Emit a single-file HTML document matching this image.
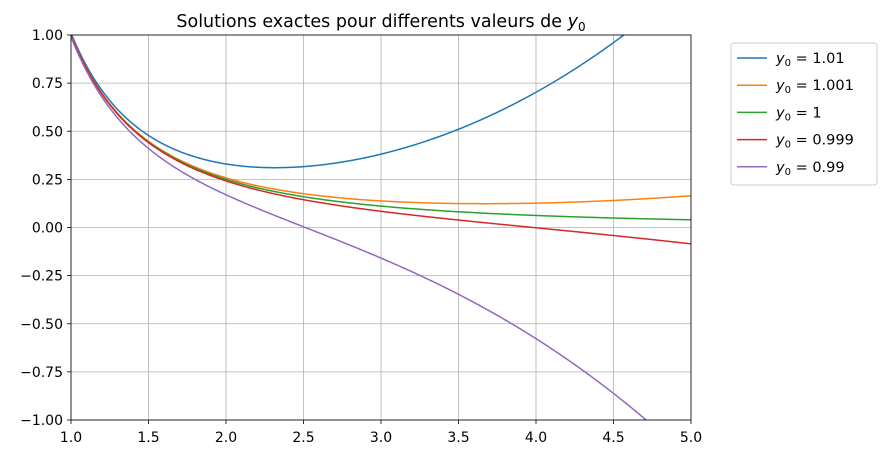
<!DOCTYPE html>
<html><head><meta charset="utf-8"><style>body{margin:0;background:#fff}svg{display:block;font-family:"DejaVu Sans","Liberation Sans",sans-serif}</style></head>
<body>
<svg id="s" width="887" height="455" viewBox="0 0 887 455" xmlns="http://www.w3.org/2000/svg">
<defs><clipPath id="c"><rect x="71" y="35" width="620" height="385"/></clipPath></defs>
<rect width="887" height="455" fill="#fff"/>
<g id="grid" stroke="#b0b0b0" stroke-width="0.8"></g>
<g id="curves" clip-path="url(#c)" fill="none" stroke-width="1.5"></g>
<rect x="71" y="35" width="620" height="385" fill="none" stroke="#000" stroke-width="0.8"/>
<g id="ticks" font-size="14" fill="#000"></g>
<text x="381" y="27" font-size="17.5" text-anchor="middle">Solutions exactes pour differents valeurs de <tspan font-style="italic">y</tspan><tspan font-size="12" dy="4">0</tspan></text>
<rect x="731" y="43" width="146" height="142" rx="3" fill="#fff" stroke="#ccc"/>
<g id="leg" font-size="14.5"></g>
</svg>
<script>
var NS="http://www.w3.org/2000/svg";
function el(p,t,a,txt){var e=document.createElementNS(NS,t);for(var k in a)e.setAttribute(k,a[k]);if(txt!=null)e.textContent=txt;document.getElementById(p).appendChild(e);return e;}
function X(x){return 71+(x-1)*155;}function Y(y){return 227.5-y*192.5;}
for(var i=0;i<=8;i++){var x=1+i*0.5,px=X(x);
 el("grid","line",{x1:px,x2:px,y1:35,y2:420});
 el("ticks","line",{x1:px,x2:px,y1:420,y2:424,stroke:"#000","stroke-width":0.8});
 el("ticks","text",{x:px,y:442,"text-anchor":"middle"},x.toFixed(1));}
for(var i=0;i<=8;i++){var y=-1+i*0.25,py=Y(y);
 el("grid","line",{x1:71,x2:691,y1:py,y2:py});
 el("ticks","line",{x1:67,x2:71,y1:py,y2:py,stroke:"#000","stroke-width":0.8});
 el("ticks","text",{x:63,y:py+5,"text-anchor":"end"},(y<0?"\u2212":"")+Math.abs(y).toFixed(2));}
var S=[[1.01,"#1f77b4","1.01"],[1.001,"#ff7f0e","1.001"],[1,"#2ca02c","1"],[0.999,"#d62728","0.999"],[0.99,"#9467bd","0.99"]];
S.forEach(function(s,j){var d="";for(var k=0;k<=400;k++){var x=1+4*k/400,y=1/(x*x)+(s[0]-1)*x*x*x;d+=(k?"L":"M")+X(x).toFixed(2)+" "+Y(y).toFixed(2);}
 el("curves","path",{d:d,stroke:s[1]});
 var ly=58+j*27.2;
 el("leg","line",{x1:737,x2:767,y1:ly,y2:ly,stroke:s[1],"stroke-width":1.5});
 var t=el("leg","text",{x:776,y:ly+5});
 var a=document.createElementNS(NS,"tspan");a.setAttribute("font-style","italic");a.textContent="y";t.appendChild(a);
 var b=document.createElementNS(NS,"tspan");b.setAttribute("font-size","10");b.setAttribute("dy","3");b.textContent="0";t.appendChild(b);
 var c=document.createElementNS(NS,"tspan");c.setAttribute("dy","-3");c.textContent=" = "+s[2];t.appendChild(c);});
</script>
</body></html>
